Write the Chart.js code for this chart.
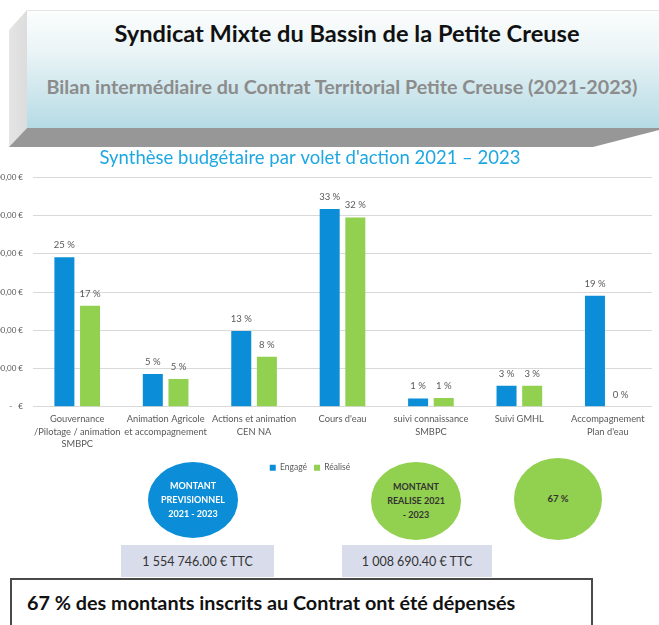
<!DOCTYPE html>
<html lang="fr">
<head>
<meta charset="utf-8">
<script src="https://cdn.jsdelivr.net/npm/chart.js@4.4.1/dist/chart.umd.min.js"></script>
<style>
  html, body { margin: 0; padding: 0; background: #ffffff; }
  body { width: 659px; height: 625px; position: relative; overflow: hidden; font-family: Lato, "Open Sans", sans-serif; }
  .abs { position: absolute; }
  #face { left: 27px; top: 10px; width: 640px; height: 118px;
          background: linear-gradient(to bottom, #fcfdfd 0%, #eaf4f6 35%, #b5dbe5 100%);
          border-top: 1px solid #e6e6e6; box-sizing: border-box; }
  #bevelL { left: 0; top: 0; width: 40px; height: 150px; background: linear-gradient(to right, #e9e9e9, #d6d6d6);
            clip-path: polygon(27px 10px, 9px 30px, 9px 147px, 27px 128px); }
  #bevelB { left: 0; top: 0; width: 659px; height: 150px; background: #979797;
            clip-path: polygon(27px 128px, 659px 128px, 659px 130px, 593px 147px, 9px 147px); }
  #t1 { left: 27px; width: 640px; top: 19px; text-align: center; font-weight: 700; font-size: 23.6px; color: #111; }
  #t2 { left: 27px; width: 630px; top: 75px; text-align: center; font-weight: 700; font-size: 19.7px; color: #8c8c8c; }
  #chartWrap { left: -32px; top: 145px; }
  .ell { border-radius: 50%; display: flex; align-items: center; justify-content: center; text-align: center;
         font-weight: 700; font-size: 9px; line-height: 14px; }
  .box { background: #d9dceb; display: flex; align-items: center; justify-content: center; font-size: 12.5px; color: #333; }
  #bottomBox { left: 10px; top: 578px; width: 583px; height: 60px; border: 2px solid #4a4a4a; box-sizing: border-box; background: #fff; }
  #bottomTxt { left: 27px; top: 590px; font-weight: 700; font-size: 19.8px; color: #111; }
</style>
</head>
<body>
<div class="abs" id="bevelL"></div>
<div class="abs" id="face"></div>
<div class="abs" id="bevelB"></div>
<div class="abs" id="t1">Syndicat Mixte du Bassin de la Petite Creuse</div>
<div class="abs" id="t2">Bilan intermédiaire du Contrat Territorial Petite Creuse (2021-2023)</div>

<div class="abs" id="chartWrap"><canvas id="c" width="684" height="337"></canvas></div>

<div class="abs ell" style="left:148px;top:462px;width:90px;height:76px;background:#0b8ed7;color:#fff;">MONTANT<br>PREVISIONNEL<br>2021 - 2023</div>
<div class="abs ell" style="left:371px;top:462px;width:90px;height:78px;background:#92d050;color:#333;">MONTANT<br>REALISE 2021<br>- 2023</div>
<div class="abs ell" style="left:514px;top:458px;width:88px;height:82px;background:#92d050;color:#333;font-size:9.5px;">67 %</div>
<div class="abs box" style="left:121px;top:545px;width:153px;height:32px;">1 554 746.00 € TTC</div>
<div class="abs box" style="left:342px;top:545px;width:150px;height:32px;">1 008 690.40 € TTC</div>
<div class="abs" id="bottomBox"></div>
<div class="abs" id="bottomTxt">67 % des montants inscrits au Contrat ont été dépensés</div>

<script>
// ---- Data ----
const categories = [
  ["Gouvernance", "/Pilotage / animation", "SMBPC"],
  ["Animation Agricole", "et accompagnement"],
  ["Actions et animation", "CEN NA"],
  ["Cours d'eau"],
  ["suivi connaissance", "SMBPC"],
  ["Suivi GMHL"],
  ["Accompagnement", "Plan d'eau"]
];
const seriesNames = ["Engagé", "Réalisé"];
const engage  = [391000, 86000, 198000, 517000, 22000, 55000, 290000];
const realise = [264000, 73000, 131000, 495000, 23000, 55000, 0];
const engagePct  = [25, 5, 13, 33, 1, 3, 19];
const realisePct = [17, 5, 8, 32, 1, 3, 0];
const yMax = 600000;
const yStep = 100000;
const chartTitle = "Synthèse budgétaire par volet d'action 2021 – 2023";

const pctLabels = [engagePct, realisePct];
const FONT = "Lato, 'Open Sans', sans-serif";

function euro(v) {
  if (v === 0) return "-   €";
  return String(v).replace(/\B(?=(\d{3})+(?!\d))/g, " ") + ",00 €";
}

const labelPlugin = {
  id: "pctLabels",
  afterDatasetsDraw(chart) {
    const ctx = chart.ctx;
    ctx.save();
    ctx.font = "9.5px " + FONT;
    ctx.fillStyle = "#595959";
    ctx.textAlign = "center";
    ctx.textBaseline = "middle";
    chart.data.datasets.forEach((ds, i) => {
      const meta = chart.getDatasetMeta(i);
      meta.data.forEach((el, j) => {
        ctx.fillText(pctLabels[i][j] + " %", el.x, el.y - 12);
      });
    });
    ctx.restore();
  }
};

new Chart(document.getElementById("c"), {
  type: "bar",
  data: {
    labels: categories,
    datasets: [
      { label: seriesNames[0], data: engage, backgroundColor: "#0b8ed7", borderWidth: 0 },
      { label: seriesNames[1], data: realise, backgroundColor: "#92d050", borderWidth: 0 }
    ]
  },
  options: {
    responsive: false,
    animation: false,
    devicePixelRatio: 1,
    layout: { padding: 0 },
    datasets: { bar: { categoryPercentage: 0.58, barPercentage: 0.78 } },
    plugins: {
      title: {
        display: true, text: chartTitle, color: "#1fa7e1",
        font: { family: FONT, size: 18.5, weight: "normal" },
        padding: { top: 2, bottom: 8 }
      },
      legend: {
        position: "bottom",
        labels: {
          boxWidth: 6, boxHeight: 6, padding: 7, color: "#595959",
          font: { family: FONT, size: 8.5 }
        }
      },
      tooltip: { enabled: false }
    },
    scales: {
      x: {
        grid: { display: false, drawTicks: false },
        border: { display: true, color: "#d9d9d9" },
        ticks: {
          autoSkip: false, maxRotation: 0, minRotation: 0, padding: 6, color: "#595959",
          font: { family: FONT, size: 9.3, lineHeight: 1.35 }
        }
      },
      y: {
        min: 0, max: yMax,
        grid: { color: "#d9d9d9", drawTicks: false },
        border: { display: false },
        afterFit(scale) { scale.width = 65; },
        ticks: {
          stepSize: yStep, padding: 10, color: "#595959",
          font: { family: FONT, size: 8 },
          callback: (v) => euro(v)
        }
      }
    }
  },
  plugins: [labelPlugin]
});
</script>
</body>
</html>
